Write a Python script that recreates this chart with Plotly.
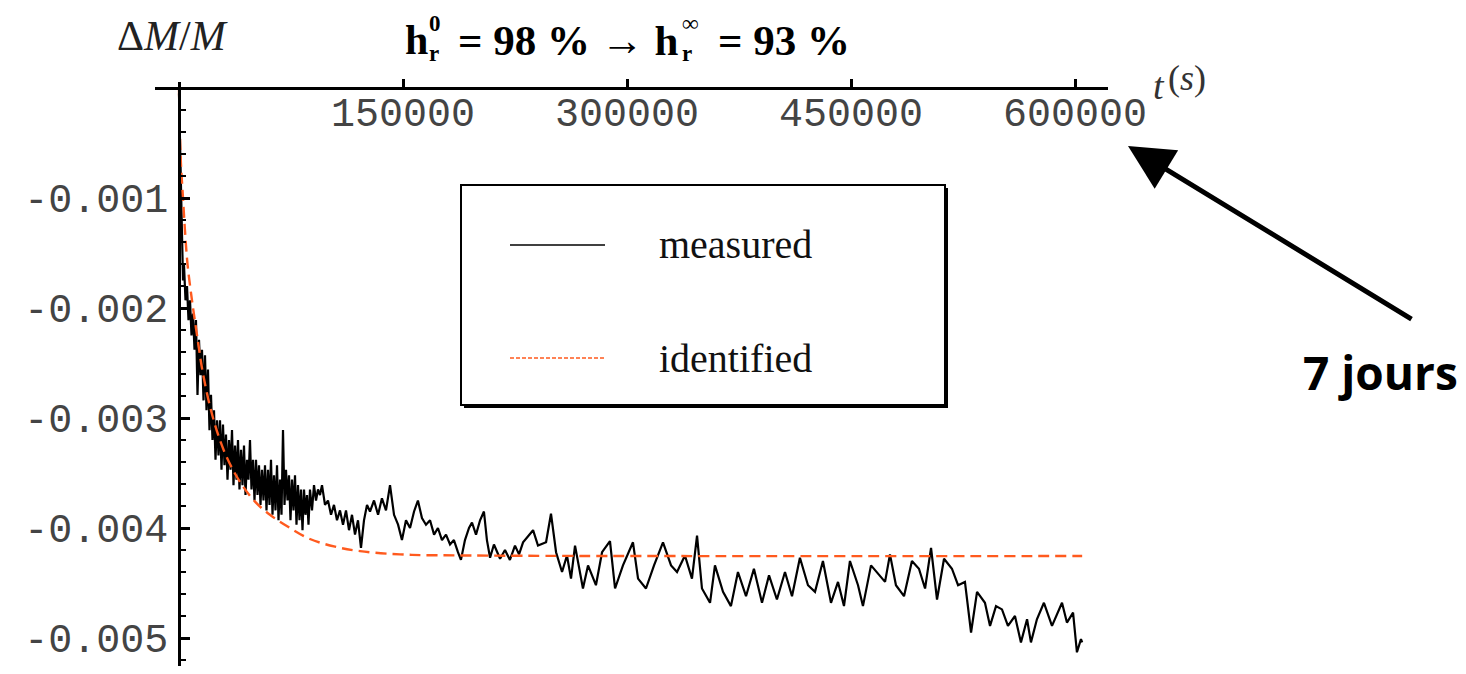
import plotly.graph_objects as go

# ---------------- data (time in ks, dM/M in per-mil) ----------------
t_measured_ks = [
    0, 1.34, 2.0, 2.68, 3.35, 4.35, 5.36, 6.36, 7.37, 8.37, 9.37, 10.38, 11.38, 12.39, 13.39,
    14.40, 15.40, 16.41, 17.41, 18.42, 19.42, 20.42, 21.43, 22.43, 23.44, 24.44, 25.45, 26.45,
    27.46, 28.46, 29.46, 30.47, 31.47, 32.48, 33.48, 34.49, 35.49, 36.49, 37.50, 38.50, 39.51,
    40.51, 41.52, 42.52, 43.53, 44.53, 45.54, 46.54, 47.54, 48.55, 49.55, 50.56, 51.56, 52.57,
    53.57, 54.58, 55.58, 56.58, 57.59, 58.59, 59.60, 60.60, 61.61, 62.61, 63.62, 64.62, 65.63,
    66.63, 67.63, 68.64, 69.64, 70.65, 71.65, 72.66, 73.66, 74.66, 75.67, 76.67, 77.68, 78.68,
    79.69, 80.69, 81.70, 82.70, 83.71, 84.71, 85.71, 86.72, 87.72, 89.06, 90.40, 91.74, 93.08,
    94.42, 95.76, 97.77, 99.78, 101.79, 103.79, 105.80, 107.81, 109.82, 111.83, 113.84, 115.85,
    117.86, 119.87, 121.87, 123.88, 125.9, 127.9, 130.6, 133.3, 135.9, 138.6, 141.3, 144.0,
    146.7, 149.3, 152.0, 154.7, 157.4, 160.0, 162.7, 165.4, 168.1, 170.8, 173.4, 176.1, 178.8,
    181.5, 184.1, 186.8, 188.8, 191.5, 194.2, 196.2, 198.9, 201.6, 204.2, 206.2, 208.3, 210.9,
    215.0, 218.3, 221.6, 225.0, 227.7, 230.4, 237.1, 240.4, 245.8, 249.1, 252.5, 256.5, 259.8,
    262.5, 265.2, 270.5, 273.9,
    279.2, 283.3, 288.6, 292.0, 297.3, 304.0, 307.4, 312.7, 318.1, 324.1, 329.5, 333.5, 338.8,
    343.5, 346.9, 350.2, 355.6, 358.9, 364.3, 369.6, 374.3, 379.7, 385.0, 390.4, 395.1, 400.4,
    405.8, 410.5, 415.8, 421.2, 425.9, 431.2, 436.6, 441.3, 445.3, 449.3, 454.7, 458.0, 463.4,
    468.7, 472.8, 476.1, 480.1, 485.5, 490.8, 495.5, 499.6, 503.6, 507.6, 512.3, 517.6, 521.7,
    526.3, 530.4, 534.4, 539.7, 543.1, 547.1, 551.1, 555.1, 559.8, 563.8, 567.9, 570.5, 574.5,
    579.2, 584.6, 591.3, 594.6, 598.7, 601.3, 604.0, 604.8,
]
dm_measured_permil = [
    -0.05, -1.02, -1.38, -1.75, -1.61, -1.93, -1.80, -2.11, -1.93, -2.25, -2.05, -2.38, -2.11,
    -2.79, -2.29, -2.61, -2.38, -2.84, -2.43, -2.93, -2.56, -3.11, -2.79, -3.20, -2.93, -3.38,
    -3.02, -3.34, -3.02, -3.47, -3.06, -3.43, -3.15, -3.56, -3.20, -3.47, -3.11, -3.61, -3.25,
    -3.56, -3.20, -3.65, -3.29, -3.61, -3.25, -3.70, -3.38, -3.56, -3.20, -3.65, -3.38, -3.75,
    -3.38, -3.70, -3.43, -3.79, -3.47, -3.75, -3.43, -3.84, -3.47, -3.79, -3.38, -3.88, -3.52,
    -3.84, -3.43, -3.93, -3.56, -3.88, -3.11, -3.79, -3.47, -3.75, -3.52, -3.93, -3.56, -3.84,
    -3.52, -3.97, -3.61, -3.93, -3.65, -4.02, -3.65, -3.88, -3.70, -3.97, -3.65, -3.84, -3.61,
    -3.75, -3.65, -3.70, -3.61, -3.79, -3.75, -3.88, -3.79, -3.93, -3.84, -3.97, -3.84, -4.02,
    -3.88, -4.06, -3.93, -4.18, -3.93, -3.79, -3.85, -3.75, -3.88, -3.73, -3.84, -3.61, -3.88,
    -3.97, -4.11, -3.93, -4.00, -3.85, -3.75, -3.91, -3.97, -3.93, -4.06, -4.00, -4.11, -4.06,
    -4.15, -4.11, -4.22, -4.29, -4.11, -4.00, -3.95, -4.06, -3.93, -3.85, -4.11, -4.27, -4.15,
    -4.28, -4.20, -4.29, -4.16, -4.24, -4.13, -4.02, -4.16, -4.13, -3.87, -4.22, -4.40, -4.25,
    -4.46, -4.16, -4.55, -4.34,
    -4.52, -4.22, -4.12, -4.55, -4.34, -4.13, -4.46, -4.55, -4.34, -4.13, -4.34, -4.40, -4.25,
    -4.46, -4.07, -4.55, -4.68, -4.34, -4.58, -4.71, -4.40, -4.62, -4.37, -4.68, -4.43, -4.65,
    -4.40, -4.62, -4.27, -4.52, -4.58, -4.30, -4.68, -4.49, -4.71, -4.30, -4.52, -4.71, -4.34,
    -4.43, -4.49, -4.24, -4.52, -4.62, -4.30, -4.37, -4.55, -4.18, -4.65, -4.28, -4.37, -4.52,
    -4.49, -4.95, -4.58, -4.68, -4.89, -4.71, -4.74, -4.89, -4.80, -5.04, -4.83, -5.04, -4.83,
    -4.68, -4.89, -4.68, -4.86, -4.77, -5.13, -5.01, -5.04,
]
t_identified_ks = [0, 0.67, 1.34, 2.68, 4.02, 5.69, 8.7, 12.1, 16.1, 22.8, 30.8, 40.8, 50.9,
                   60.9, 74.3, 87.7, 104.5, 121.2, 148.0, 195.0, 604.8]
dm_identified_permil = [0, -0.45, -0.70, -1.00, -1.30, -1.60, -1.93, -2.25, -2.60, -3.00, -3.32,
                        -3.58, -3.76, -3.88, -4.00, -4.10, -4.17, -4.21, -4.24, -4.25, -4.255]

series_names = ["measured", "identified"]
x_tick_vals = [150000, 300000, 450000, 600000]
x_tick_text = ["150000", "300000", "450000", "600000"]
y_tick_vals = [-0.001, -0.002, -0.003, -0.004, -0.005]
y_tick_text = ["-0.001", "-0.002", "-0.003", "-0.004", "-0.005"]

# unit conversion
t_measured = [v * 1000 for v in t_measured_ks]
dm_measured = [v / 1000 for v in dm_measured_permil]
t_identified = [v * 1000 for v in t_identified_ks]
dm_identified = [v / 1000 for v in dm_identified_permil]

# ---------------- layout helpers ----------------
# page body has an 8px margin; map page pixels -> paper fractions
BODY = 8
W, H = 1466 - 2 * BODY, 674 - 2 * BODY
def PX(x):
    return (x - BODY) / W
def PY(y):
    return 1 - (y - BODY) / H

ORANGE = "#FF5A1E"
MONO = "Liberation Mono"
SERIF = "Liberation Serif"
TICKCOL = "#444444"

fig = go.Figure()
fig.add_trace(go.Scatter(x=t_measured, y=dm_measured, mode="lines", name=series_names[0],
                         line=dict(color="black", width=2.2), showlegend=False))
fig.add_trace(go.Scatter(x=t_identified, y=dm_identified, mode="lines", name=series_names[1],
                         line=dict(color=ORANGE, width=2.4, dash="11px,6px", shape="spline"),
                         showlegend=False))

fig.update_layout(
    width=W, height=H, autosize=False,
    margin=dict(l=0, r=0, t=0, b=0),
    paper_bgcolor="white", plot_bgcolor="white",
    xaxis=dict(
        domain=[PX(155), PX(1108)], range=[-16071, 622098],
        anchor="free", position=PY(88), side="bottom",
        showline=True, linecolor="black", linewidth=2.5,
        ticks="inside", ticklen=8, tickwidth=2.5, tickcolor="black",
        tickmode="array", tickvals=x_tick_vals, ticktext=x_tick_text,
        tickfont=dict(family=MONO, size=40, color=TICKCOL),
        ticklabelstandoff=-12,
        showgrid=False, zeroline=False, automargin=False,
    ),
    yaxis=dict(
        domain=[PY(666), PY(82)], range=[-0.0052545, 0.0000545],
        anchor="free", position=PX(179), side="left",
        showline=True, linecolor="black", linewidth=2.5,
        ticks="inside", ticklen=9, tickwidth=2.5, tickcolor="black",
        tickmode="array", tickvals=y_tick_vals, ticktext=y_tick_text,
        tickfont=dict(family=MONO, size=40, color=TICKCOL),
        ticklabelstandoff=2,
        minor=dict(ticks="inside", tickmode="linear", tick0=0, dtick=0.0002,
                   ticklen=5, tickwidth=2, tickcolor="black"),
        showgrid=False, zeroline=False, automargin=False,
    ),
)

shapes = []
# legend box with shadow
shapes.append(dict(type="rect", xref="paper", yref="paper",
                   x0=PX(464), x1=PX(948), y0=PY(408), y1=PY(188),
                   fillcolor="black", line=dict(width=0)))
shapes.append(dict(type="rect", xref="paper", yref="paper",
                   x0=PX(461), x1=PX(945), y0=PY(405), y1=PY(185),
                   fillcolor="white", line=dict(color="black", width=2)))
shapes.append(dict(type="line", xref="paper", yref="paper",
                   x0=PX(510), x1=PX(605), y0=PY(245), y1=PY(245),
                   line=dict(color="black", width=1.5)))
shapes.append(dict(type="line", xref="paper", yref="paper",
                   x0=PX(510), x1=PX(605), y0=PY(358), y1=PY(358),
                   line=dict(color=ORANGE, width=1.5, dash="4px,2px")))
fig.update_layout(shapes=shapes)

ann = []
def txt(text, x, y, size, family=SERIF, color="black", xanchor="left"):
    ann.append(dict(text=text, x=PX(x), y=PY(y), xref="paper", yref="paper",
                    xanchor=xanchor, yanchor="middle", showarrow=False,
                    font=dict(family=family, size=size, color=color)))

# legend labels
txt(series_names[0], 657, 245, 40, color="#111")
txt(series_names[1], 657, 358, 40, color="#111")
# axis labels
txt("\u0394<i>M</i>/<i>M</i>", 115, 36, 42, color="#222")
txt("<i>t</i>", 1151, 86, 38, color="#333")
txt("(<i>s</i>)", 1166, 78, 36, color="#333")
# title pieces (stacked super/subscripts)
txt("<b>h</b>", 403, 40, 42)
ann.append(dict(text="<b>0<br>r</b>", x=PX(427), y=PY(38), xref="paper", yref="paper",
                xanchor="left", yanchor="middle", showarrow=False, align="left",
                font=dict(family=SERIF, size=23, color="black")))
txt("<b>= 98 % \u2192 h</b>", 456, 40, 43)
ann.append(dict(text="<b>\u221e<br>r</b>", x=PX(680), y=PY(38), xref="paper", yref="paper",
                xanchor="left", yanchor="middle", showarrow=False, align="left",
                font=dict(family=SERIF, size=23, color="black")))
txt("<b>= 93 %</b>", 716, 40, 43)
# annotation text
txt("<b>7 jours</b>", 1380, 372, 46, family="Open Sans", xanchor="center")
# arrow
ann.append(dict(text="", x=PX(1128), y=PY(146), xref="paper", yref="paper",
                ax=285, ay=174, axref="pixel", ayref="pixel", showarrow=True,
                arrowhead=2, arrowsize=1.8, arrowwidth=5, arrowcolor="black"))
fig.update_layout(annotations=ann)

fig.write_html("out.html", config={"displayModeBar": False})
